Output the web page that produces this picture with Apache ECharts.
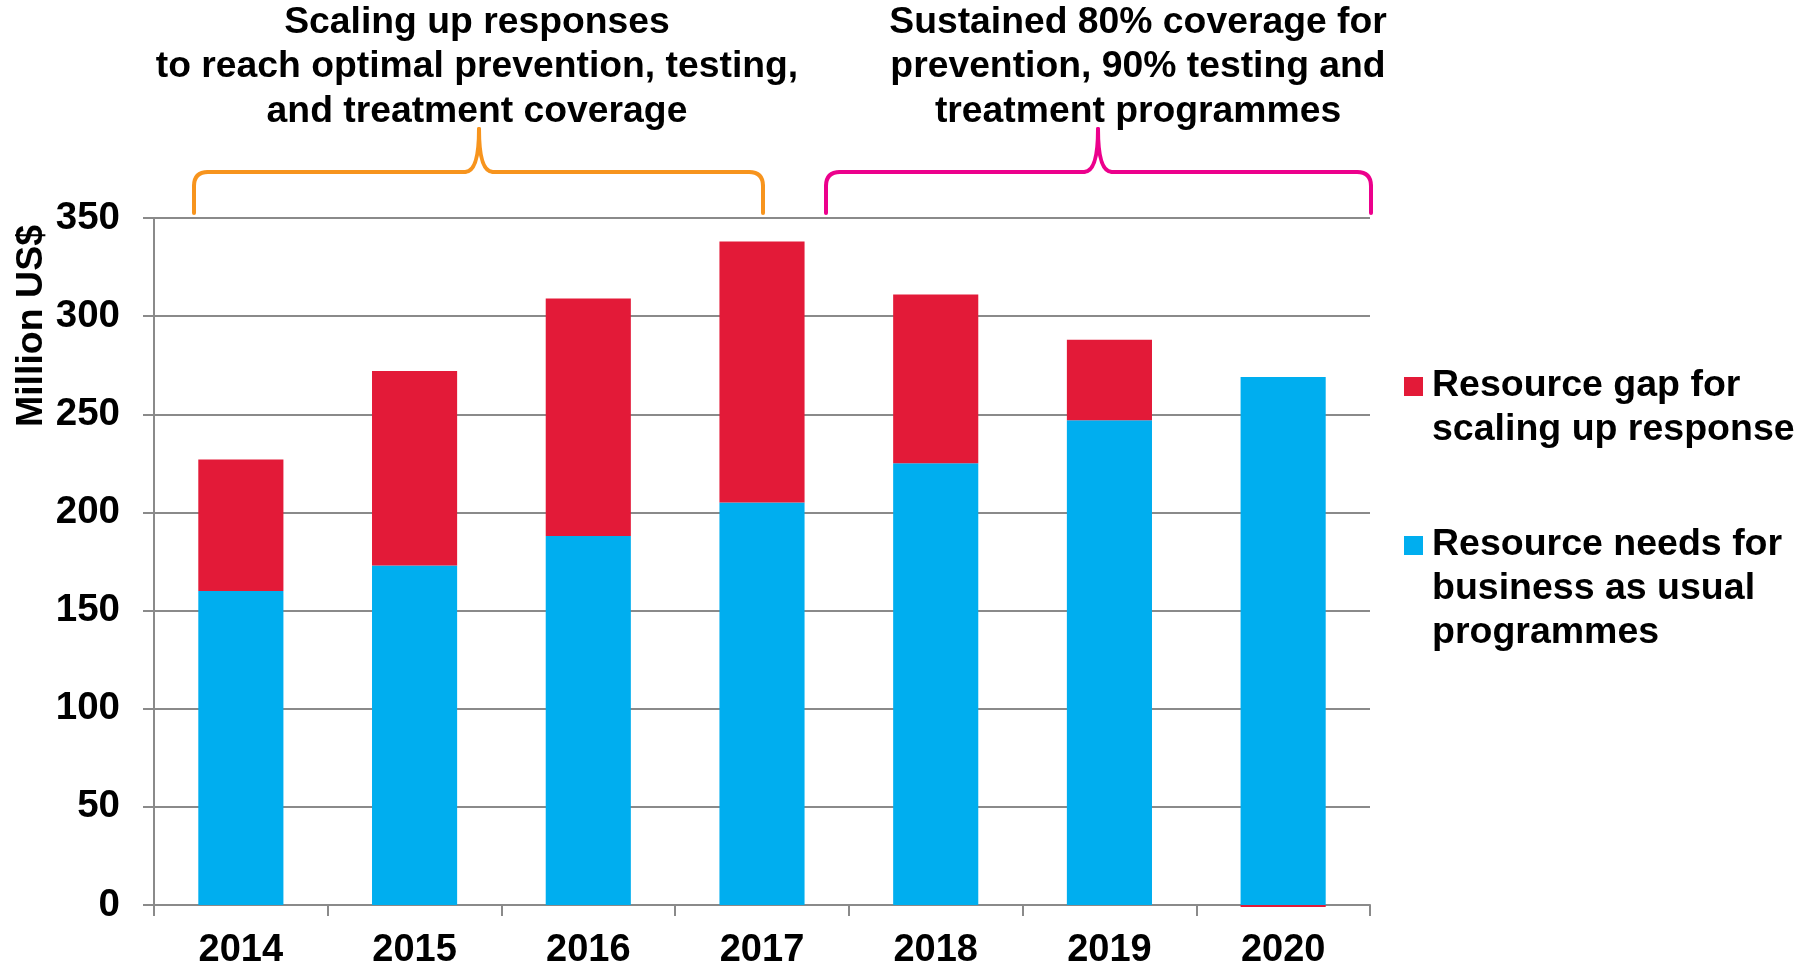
<!DOCTYPE html>
<html>
<head>
<meta charset="utf-8">
<script src="https://cdn.jsdelivr.net/npm/echarts@6/dist/echarts.min.js"></script>
<style>
  html, body { margin: 0; padding: 0; background: #fff; }
  #chart { width: 1810px; height: 965px; }
</style>
</head>
<body>
<div id="chart"></div>
<script>
const years = ['2014', '2015', '2016', '2017', '2018', '2019', '2020']
const businessAsUsual = [160, 173, 188, 205, 225, 247, 269]
const resourceGap = [67, 99, 121, 133, 86, 41, -1]
const yTicks = { min: 0, max: 350, step: 50 }

const gapName = 'Resource gap for\nscaling up response'
const needsName = 'Resource needs for\nbusiness as usual\nprogrammes'
const leftHeader = 'Scaling up responses\nto reach optimal prevention, testing,\nand treatment coverage'
const rightHeader = 'Sustained 80% coverage for\nprevention, 90% testing and\ntreatment programmes'

const RED = '#E31A38'
const BLUE = '#00AEEF'
const GRID = '#8a8a8a'
const FONT = '"Liberation Sans", Arial, sans-serif'

function textEl(text, x, y, size, lineHeight, align) {
  return {
    type: 'text',
    x, y,
    style: {
      text,
      fill: '#000',
      font: `bold ${size}px ${FONT}`,
      lineHeight,
      align, textAlign: align,
      verticalAlign: 'top', textVerticalAlign: 'top',
    },
  }
}

function legendItem(color, label, y) {
  return [
    { type: 'rect', shape: { x: 1404, y: y - 9, width: 19, height: 19 }, style: { fill: color } },
    textEl(label, 1432, y - 22, 37.5, 44, 'left'),
  ]
}

// curly brace: ends at x0 / x1, peak at xm
function brace(x0, xm, x1, color) {
  const top = 172, foot = 213, peak = 129, r = 14
  const st = { stroke: color, lineWidth: 4, lineCap: 'round', fill: null }
  const line = (a, b, c, d) => ({ type: 'line', shape: { x1: a, y1: b, x2: c, y2: d }, style: st })
  const curve = (a, b, cx, cy, c, d) => ({
    type: 'bezierCurve',
    shape: { x1: a, y1: b, cpx1: cx, cpy1: cy, x2: c, y2: d },
    style: st,
  })
  return {
    type: 'group',
    children: [
      line(x0, foot, x0, top + r),
      curve(x0, top + r, x0, top, x0 + r, top),
      line(x0 + r, top, xm - r, top),
      curve(xm - r, top, xm, top, xm, peak),
      curve(xm, peak, xm, top, xm + r, top),
      line(xm + r, top, x1 - r, top),
      curve(x1 - r, top, x1, top, x1, top + r),
      line(x1, top + r, x1, foot),
    ],
  }
}

const chart = echarts.init(document.getElementById('chart'), null, { renderer: 'canvas' })

chart.setOption({
  backgroundColor: '#fff',
  animation: false,
  textStyle: { fontFamily: FONT },
  grid: { left: 154, right: 440, top: 218, bottom: 60, containLabel: false, outerBoundsMode: 'none' },
  xAxis: {
    type: 'category',
    data: years,
    axisLine: { lineStyle: { color: GRID, width: 2 } },
    axisTick: { show: true, length: 11, lineStyle: { color: GRID, width: 2 } },
    axisLabel: { color: '#000', fontSize: 38, fontWeight: 'bold', margin: 27 },
  },
  yAxis: {
    type: 'value',
    min: yTicks.min,
    max: yTicks.max,
    interval: yTicks.step,
    axisLine: { show: true, lineStyle: { color: GRID, width: 2 } },
    axisTick: { show: true, length: 11, lineStyle: { color: GRID, width: 2 } },
    axisLabel: { color: '#000', fontSize: 38.5, fontWeight: 'bold', margin: 34 },
    splitLine: { lineStyle: { color: GRID, width: 2 } },
  },
  series: [
    {
      name: needsName,
      type: 'bar',
      stack: 'total',
      barCategoryGap: '51%',
      itemStyle: { color: BLUE },
      data: businessAsUsual,
    },
    {
      name: gapName,
      type: 'bar',
      stack: 'total',
      clip: false,
      barCategoryGap: '51%',
      itemStyle: { color: RED },
      data: resourceGap,
    },
  ],
  graphic: [
    {
      type: 'text',
      x: 32, y: 326,
      rotation: Math.PI / 2,
      style: {
        text: 'Million US$',
        fill: '#000',
        font: `bold 37.5px ${FONT}`,
        align: 'center', textAlign: 'center',
        verticalAlign: 'middle', textVerticalAlign: 'middle',
      },
    },
    textEl(leftHeader, 477, 0, 37.3, 44.5, 'center'),
    textEl(rightHeader, 1138, 0, 37.3, 44.5, 'center'),
    brace(194, 479, 763, '#F7941D'),
    brace(826, 1098, 1371, '#EC008C'),
    ...legendItem(RED, gapName, 386),
    ...legendItem(BLUE, needsName, 545),
  ],
})
</script>
</body>
</html>
